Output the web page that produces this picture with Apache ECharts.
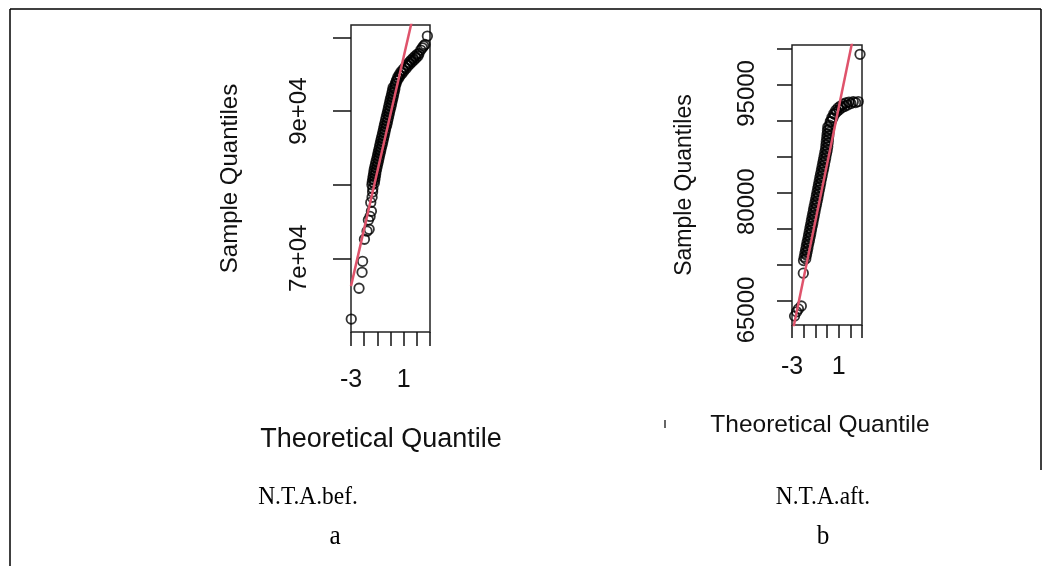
<!DOCTYPE html>
<html><head><meta charset="utf-8">
<script src="https://cdn.jsdelivr.net/npm/echarts@6/dist/echarts.min.js"></script>
<style>html,body{margin:0;padding:0;background:#fff;}#c{width:1050px;height:566px;}</style>
</head><body><div id="c"></div>
<script>
// Panel a (N.T.A.bef.) — theoretical quantiles and sample quantiles
const theoA = [-2.98,-2.39,-2.16,-2.12,-1.98,-1.78,-1.62,-1.68,-1.55,-1.45,-1.50,-1.40,-1.36,-1.34,
 -1.41,-1.23,-1.38,-1.20,-1.34,-1.17,-1.31,-1.13,-1.27,-1.10,-1.24,-1.05,-1.19,-1.00,-1.14,-0.95,-1.09,-0.90,-1.03,-0.85,
 -0.98,-0.80,-0.93,-0.75,-0.88,-0.70,-0.83,-0.64,-0.78,-0.59,-0.73,-0.54,-0.68,-0.49,-0.62,-0.44,-0.57,-0.39,-0.52,-0.34,
 -0.47,-0.28,-0.42,-0.23,-0.37,-0.18,-0.32,-0.13,-0.26,-0.08,-0.21,-0.03,-0.16,0.03,-0.11,0.08,-0.06,0.13,-0.01,0.18,
 0.05,0.23,0.10,0.28,0.15,0.33,0.20,
 0.33,0.37,0.41,0.45,0.49,0.55,0.60,0.66,0.72,0.79,0.87,0.94,1.02,1.10,1.18,1.25,1.33,1.41,1.48,1.56,1.63,1.71,1.79,1.86,
 1.94,2.01,2.09,2.16,
 2.30,2.42,2.52,2.62,2.80];
const sampleA = [61750,65940,68110,69600,72600,73700,73950,75200,75700,76400,77600,78300,79000,79500,
 80000,80200,80400,80600,80800,81000,81200,81400,81600,81800,82000,82200,82400,82600,82800,83000,83200,83400,83600,83800,
 84000,84200,84400,84600,84800,85000,85200,85400,85600,85800,86000,86200,86400,86600,86800,87000,87200,87400,87600,87800,
 88000,88200,88400,88600,88800,89000,89200,89400,89600,89800,90000,90200,90400,90600,90800,91000,91200,91400,91600,91800,
 92000,92200,92400,92600,92800,93000,93200,
 93350,93750,93650,94150,94100,94600,94450,94950,94780,95300,95120,95630,95450,95970,95800,96320,96140,96620,96410,96900,
 96680,97170,96950,97440,97220,97710,97490,97830,
 98300,98600,98850,99050,100200];
const lineAX = [-3, 3];
const lineAY = [66230, 112940];

// Panel b (N.T.A.aft.)
const theoB = [-2.78,-2.60,-2.45,-2.20,-2.03,
 -2.01,-1.82,-1.95,-1.76,-1.89,-1.70,-1.83,-1.64,-1.77,-1.58,-1.71,-1.51,-1.64,-1.45,-1.58,-1.39,-1.52,-1.33,-1.46,-1.27,
 -1.40,-1.21,-1.34,-1.15,-1.28,-1.09,-1.22,-1.03,-1.16,-0.97,-1.10,-0.90,-1.03,-0.84,-0.97,-0.78,-0.91,-0.72,-0.85,-0.66,
 -0.79,-0.60,-0.73,-0.54,-0.67,-0.48,-0.61,-0.42,-0.55,-0.36,-0.48,-0.29,-0.42,-0.23,-0.36,-0.17,-0.30,-0.11,-0.24,-0.05,
 -0.18,0.01,-0.12,0.06,-0.09,0.09,-0.06,0.12,-0.02,0.15,0.01,0.18,0.04,0.22,0.07,
 0.22,0.28,0.35,0.42,0.50,0.58,0.66,0.75,0.84,0.94,1.04,1.15,1.26,1.38,1.50,1.62,1.75,1.88,2.05,2.25,2.45,2.68,
 2.83];
const sampleB = [62900,63500,63900,64300,68850,
 70600,70850,71100,71350,71600,71850,72100,72350,72600,72850,73100,73350,73600,73850,74100,74350,74600,74850,75100,75350,
 75600,75850,76100,76350,76600,76850,77100,77350,77600,77850,78100,78350,78600,78850,79100,79350,79600,79850,80100,80350,
 80600,80850,81100,81350,81600,81850,82100,82350,82600,82850,83100,83350,83600,83850,84100,84350,84600,84850,85100,85350,
 85600,85850,86100,86350,86600,86850,87100,87350,87600,87850,88100,88350,88600,88850,89100,
 89350,89850,89850,90400,90300,90950,90850,91400,91200,91750,91500,92000,91750,92250,91950,92450,92150,92550,92350,92600,92480,92620,
 99170];
const lineBX = [-3, 3];
const lineBY = [60334, 107476];

// Axes / ticks
const xTicks = [-3,-2,-1,0,1,2,3];
const xLabelVals = [-3, 1];
const yTicksA = [70000, 80000, 90000, 100000];
const yLabelValsA = [70000, 90000];
const yLabelTextA = ['7e+04', '9e+04'];
const yTicksB = [65000,70000,75000,80000,85000,90000,95000,100000];
const yLabelValsB = [65000, 80000, 95000];
const yLabelTextB = ['65000', '80000', '95000'];

const zip = (a, b) => a.map((v, i) => [v, b[i]]);
const SANS = 'Liberation Sans, Arial, sans-serif';
const SERIF = 'Liberation Serif, Times New Roman, serif';

function xAxisCfg(idx, margin, tickLen, nameGap, padR, nameSize) {
  return {
    type: 'value', gridIndex: idx, min: -3, max: 3,
    name: 'Theoretical Quantile', nameLocation: 'middle', nameGap: nameGap,
    nameTextStyle: {fontFamily: SANS, fontSize: nameSize, color: '#111', padding: [0, padR, 0, 0]},
    axisLine: {show: false, onZero: false}, splitLine: {show: false},
    axisTick: {show: true, inside: false, length: tickLen, customValues: xTicks, lineStyle: {color: '#111', width: 1.5}},
    axisLabel: {show: true, customValues: xLabelVals, margin: margin, fontFamily: SANS, fontSize: 25, color: '#111'}
  };
}
function yAxisCfg(idx, min, max, ticks, labVals, labText, margin, tickLen, nameGap, nameSize, labShift) {
  return {
    type: 'value', gridIndex: idx, min: min, max: max,
    name: 'Sample Quantiles', nameLocation: 'middle', nameGap: nameGap, nameRotate: 90,
    nameTextStyle: {fontFamily: SANS, fontSize: nameSize, color: '#111'},
    axisLine: {show: false, onZero: false}, splitLine: {show: false},
    axisTick: {show: true, inside: false, length: tickLen, customValues: ticks, lineStyle: {color: '#111', width: 1.5}},
    axisLabel: {show: true, rotate: 90, customValues: labVals, margin: margin, fontFamily: SANS, fontSize: 24, color: '#111',
      padding: [0, labShift, 0, 0],
      formatter: v => { const i = labVals.indexOf(v); return i >= 0 ? labText[i] : ''; }}
  };
}
const pointStyle = {color: 'rgba(0,0,0,0)', borderColor: '#000', borderWidth: 1.8};

const chart = echarts.init(document.getElementById('c'), null, {renderer: 'canvas'});
chart.setOption({
  backgroundColor: '#fff',
  animation: false,
  grid: [
    {left: 351, top: 25, width: 79, height: 307, show: true, borderColor: '#222', borderWidth: 1.5, backgroundColor: 'transparent'},
    {left: 792, top: 45, width: 70, height: 280, show: true, borderColor: '#222', borderWidth: 1.5, backgroundColor: 'transparent'}
  ],
  xAxis: [xAxisCfg(0, 36, 14, 94, 19, 27), xAxisCfg(1, 30, 13, 88, 14, 24.5)],
  yAxis: [
    yAxisCfg(0, 60000, 101700, yTicksA, yLabelValsA, yLabelTextA, 40, 18, 109, 24, 0),
    yAxisCfg(1, 61670, 100460, yTicksB, yLabelValsB, yLabelTextB, 33, 15, 96, 23, 18)
  ],
  series: [
    {type: 'scatter', xAxisIndex: 0, yAxisIndex: 0, data: zip(theoA, sampleA), symbol: 'circle', symbolSize: 9.5, itemStyle: pointStyle, clip: true},
    {type: 'line', xAxisIndex: 0, yAxisIndex: 0, data: zip(lineAX, lineAY), symbol: 'none', lineStyle: {color: '#DF536B', width: 2.5}, clip: true},
    {type: 'scatter', xAxisIndex: 1, yAxisIndex: 1, data: zip(theoB, sampleB), symbol: 'circle', symbolSize: 9.5, itemStyle: pointStyle, clip: true},
    {type: 'line', xAxisIndex: 1, yAxisIndex: 1, data: zip(lineBX, lineBY), symbol: 'none', lineStyle: {color: '#DF536B', width: 2.5}, clip: true}
  ],
  graphic: [
    {type: 'line', shape: {x1: 10, y1: 9, x2: 1041, y2: 9}, style: {stroke: '#000', lineWidth: 1.5}},
    {type: 'line', shape: {x1: 10, y1: 9, x2: 10, y2: 566}, style: {stroke: '#000', lineWidth: 1.5}},
    {type: 'line', shape: {x1: 1041, y1: 9, x2: 1041, y2: 470}, style: {stroke: '#000', lineWidth: 1.5}},
    {type: 'line', shape: {x1: 665, y1: 420, x2: 665, y2: 428}, style: {stroke: '#333', lineWidth: 1.5}},
    {type: 'text', x: 308, y: 497, scaleX: 0.9, style: {text: 'N.T.A.bef.', font: '26px ' + SERIF, fill: '#000', textAlign: 'center', textVerticalAlign: 'middle'}},
    {type: 'text', x: 335, y: 537, scaleX: 0.9, style: {text: 'a', font: '28px ' + SERIF, fill: '#000', textAlign: 'center', textVerticalAlign: 'middle'}},
    {type: 'text', x: 823, y: 497, scaleX: 0.9, style: {text: 'N.T.A.aft.', font: '26px ' + SERIF, fill: '#000', textAlign: 'center', textVerticalAlign: 'middle'}},
    {type: 'text', x: 823, y: 537, scaleX: 0.9, style: {text: 'b', font: '28px ' + SERIF, fill: '#000', textAlign: 'center', textVerticalAlign: 'middle'}}
  ]
});
</script></body></html>
